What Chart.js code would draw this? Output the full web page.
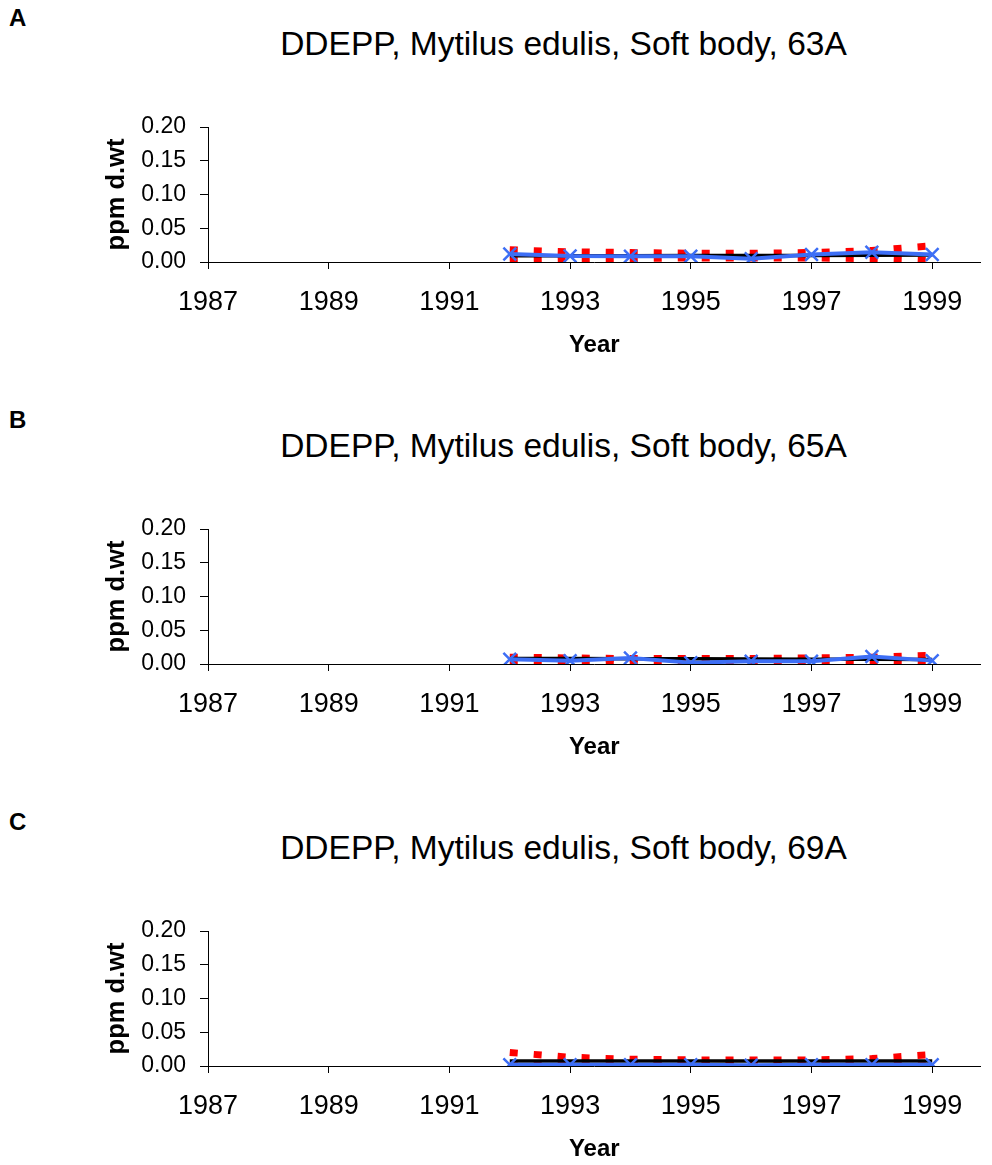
<!DOCTYPE html>
<html>
<head>
<meta charset="utf-8">
<script src="https://cdn.jsdelivr.net/npm/chart.js@4"></script>
<style>
    html, body { margin: 0; padding: 0; overflow: hidden; background: #fff; }
    body { width: 992px; height: 1165px; position: relative; font-family: 'Liberation Sans', Arial, sans-serif; }
    .panel { position: absolute; left: 0; width: 992px; height: 402px; }
    .panel canvas { position: absolute; left: 0; top: 0; }
    .letter { position: absolute; left: 9px; top: 4px; font-weight: bold; font-size: 24px; color: #000; }
    .ptitle { position: absolute; left: 0; top: 25px; width: 992px; box-sizing: border-box; padding-left: 135px; text-align: center; font-size: 33.5px; color: #000; white-space: nowrap; }
</style>
</head>
<body>
<div class="panel" style="top:0px"><div class="letter">A</div><div class="ptitle">DDEPP, Mytilus edulis, Soft body, 63A</div><canvas id="chartA" width="992" height="402"></canvas></div>
<div class="panel" style="top:402px"><div class="letter">B</div><div class="ptitle">DDEPP, Mytilus edulis, Soft body, 65A</div><canvas id="chartB" width="992" height="402"></canvas></div>
<div class="panel" style="top:804px"><div class="letter">C</div><div class="ptitle">DDEPP, Mytilus edulis, Soft body, 69A</div><canvas id="chartC" width="992" height="402"></canvas></div>
<script>
// values (ppm d.wt)
const years = [1992, 1993, 1994, 1995, 1996, 1997, 1998, 1999];
const xTicks = [1987, 1989, 1991, 1993, 1995, 1997, 1999];
const yTicks = [0, 0.05, 0.10, 0.15, 0.20];

const medianA = [0.012, 0.009, 0.0085, 0.0085, 0.005, 0.011, 0.0145, 0.011];
const trendA = [0.0092, 0.0093, 0.0094, 0.0095, 0.0096, 0.0097, 0.0099, 0.0102];
const upperA = [0.018, 0.015, 0.014, 0.013, 0.013, 0.014, 0.017, 0.024];
const lowerA = [0.002, 0.004, 0.005, 0.006, 0.006, 0.006, 0.005, 0.002];

const medianB = [0.007, 0.005, 0.009, 0.002, 0.004, 0.004, 0.011, 0.005];
const trendB = [0.008, 0.008, 0.0078, 0.0076, 0.0074, 0.0072, 0.007, 0.0068];
const upperB = [0.010, 0.009, 0.008, 0.008, 0.008, 0.009, 0.010, 0.013];
const lowerB = [0.004, 0.004, 0.005, 0.005, 0.005, 0.005, 0.004, 0.002];

const medianC = [0.002, 0.002, 0.002, 0.002, 0.001, 0.002, 0.002, 0.002];
const trendC = [0.0075, 0.0075, 0.0075, 0.0075, 0.0075, 0.0075, 0.0075, 0.0075];
const upperC = [0.020, 0.013, 0.010, 0.009, 0.009, 0.009, 0.011, 0.017];
const lowerC = [0.0, 0.002, 0.003, 0.004, 0.004, 0.003, 0.002, 0.0];

const FONT = "'Liberation Sans', Arial, sans-serif";

function pts(values) {
    return years.map((yr, i) => ({x: yr, y: values[i]}));
}

function makePanel(id, median, trend, upper, lower) {
    const ctx = document.getElementById(id).getContext('2d');
    return new Chart(ctx, {
        type: 'line',
        data: {
            datasets: [
                {
                    label: 'median',
                    data: pts(median),
                    borderColor: '#3d6ef5',
                    borderWidth: 4,
                    pointStyle: 'crossRot',
                    pointRadius: 9,
                    pointBorderWidth: 2.5,
                    pointBorderColor: '#3d6ef5',
                    fill: false,
                    tension: 0
                },
                {
                    label: 'trend',
                    data: pts(trend),
                    borderColor: '#000',
                    borderWidth: 3.5,
                    pointRadius: 0,
                    fill: false,
                    tension: 0
                },
                {
                    label: 'upper',
                    data: pts(upper),
                    borderColor: '#ff0000',
                    borderWidth: 7,
                    borderDash: [8, 16],
                    borderCapStyle: 'butt',
                    pointRadius: 0,
                    fill: false,
                    tension: 0
                },
                {
                    label: 'lower',
                    data: pts(lower),
                    borderColor: '#ff0000',
                    borderWidth: 7,
                    borderDash: [8, 16],
                    borderCapStyle: 'butt',
                    pointRadius: 0,
                    fill: false,
                    tension: 0
                }
            ]
        },
        options: {
            responsive: false,
            animation: false,
            layout: {
                padding: {top: 127, left: 100, right: 6, bottom: 30}
            },
            plugins: {
                legend: {display: false},
                tooltip: {enabled: false}
            },
            scales: {
                x: {
                    type: 'linear',
                    min: 1987,
                    max: 1999.8,
                    afterBuildTicks: axis => { axis.ticks = xTicks.map(v => ({value: v})); },
                    afterFit: axis => { axis.height = 110; },
                    grid: {drawOnChartArea: false, drawTicks: true, tickLength: 7, color: '#000'},
                    border: {display: true, color: '#000', width: 1},
                    ticks: {
                        color: '#000',
                        padding: 17,
                        maxRotation: 0,
                        font: {family: FONT, size: 27},
                        callback: v => String(v)
                    },
                    title: {
                        display: true,
                        text: 'Year',
                        color: '#000',
                        padding: {top: 12, bottom: 12},
                        font: {family: FONT, size: 24, weight: 'bold'}
                    }
                },
                y: {
                    min: 0,
                    max: 0.2,
                    afterBuildTicks: axis => { axis.ticks = yTicks.map(v => ({value: v})); },
                    afterFit: axis => { axis.width = 108; },
                    grid: {drawOnChartArea: false, drawTicks: true, tickLength: 8, color: '#000'},
                    border: {display: true, color: '#000', width: 1},
                    ticks: {
                        color: '#000',
                        padding: 14,
                        font: {family: FONT, size: 23},
                        callback: v => v.toFixed(2)
                    },
                    title: {
                        display: true,
                        text: 'ppm d.wt',
                        color: '#000',
                        padding: {top: 2, bottom: 2},
                        font: {family: FONT, size: 25.5, weight: 'bold'}
                    }
                }
            }
        }
    });
}

makePanel('chartA', medianA, trendA, upperA, lowerA);
makePanel('chartB', medianB, trendB, upperB, lowerB);
makePanel('chartC', medianC, trendC, upperC, lowerC);
</script>
</body>
</html>
